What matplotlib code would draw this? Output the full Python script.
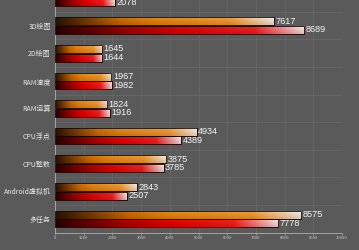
import numpy as np
import matplotlib
matplotlib.use("Agg")
import matplotlib.pyplot as plt
from matplotlib.colors import LinearSegmentedColormap

plt.rcParams['font.family'] = ['Noto Sans CJK SC', 'DejaVu Sans']

categories = ["多任务", "Android虚拟机", "CPU整数", "CPU浮点", "RAM运算", "RAM速度", "2D绘图", "3D绘图", "存储I/O"]
series_a = [8575, 2843, 3875, 4934, 1824, 1967, 1645, 7617, 1950]
series_b = [7778, 2507, 3785, 4389, 1916, 1982, 1644, 8689, 2078]
x_ticks = [0, 1000, 2000, 3000, 4000, 5000, 6000, 7000, 8000, 9000, 10000]

W, H = 359, 250
fig = plt.figure(figsize=(W / 100, H / 100), dpi=100)
fig.patch.set_facecolor('#5a5a5a')
ax = fig.add_axes([55 / W, 17.3 / H, (342 - 55) / W, 248.5 / H])
ax.set_facecolor('#5a5a5a')

y = np.arange(len(categories))
bh = 0.29
off = 0.155

cmap_a = LinearSegmentedColormap.from_list('a', [(0, '#2a1200'), (0.3, '#d86e00'), (0.45, '#f08a10'), (0.8, '#ffa030'), (1.0, '#fff4ea')])
cmap_b = LinearSegmentedColormap.from_list('b', [(0, '#2a0000'), (0.3, '#b00000'), (0.5, '#f00000'), (0.8, '#ff2020'), (1.0, '#fff0f0')])

bars_a = ax.barh(y + off, series_a, height=bh, color='none', edgecolor='#1a0800', linewidth=0.6, zorder=3)
bars_b = ax.barh(y - off, series_b, height=bh, color='none', edgecolor='#1a0000', linewidth=0.6, zorder=3)

grad = np.linspace(0, 1, 256)
vert = np.linspace(0.82, 1.0, 16)[:, None]

for bars, cmap in ((bars_a, cmap_a), (bars_b, cmap_b)):
    for b in bars:
        x0, y0 = b.get_x(), b.get_y()
        w, h = b.get_width(), b.get_height()
        rgb = cmap(grad)[:, :3][None, :, :] * vert[:, :, None]
        im = ax.imshow(rgb, extent=(x0, x0 + w, y0, y0 + h), aspect='auto',
                       origin='lower', zorder=2, interpolation='bilinear')
        im.set_clip_path(b)
        ax.text(x0 + w + 50, y0 + h / 2, f"{int(w)}", va='center', ha='left',
                fontsize=6.6, color='#f4f4f4', family='Liberation Sans', zorder=4)

ax.set_xlim(0, 10000)
ax.set_ylim(-0.5, len(categories) - 0.5)
ax.set_xticks(x_ticks)
ax.set_xticklabels([str(t) for t in x_ticks], fontsize=3, color='#cccccc')
ax.set_yticks(y)
ax.set_yticklabels(categories, fontsize=5, color='#e6e6e6')
# top category label lies above the visible area in the reference
ax.get_yticklabels()[-1].set_visible(False)
ax.set_yticks(np.arange(-0.5, len(categories), 1), minor=True)
ax.tick_params(axis='y', length=0, pad=3)
ax.tick_params(axis='y', which='minor', length=0)
ax.tick_params(axis='x', length=1.5, width=0.5, color='#aaaaaa', pad=1)
ax.grid(axis='x', which='major', color='#666666', linewidth=0.6, zorder=0)
ax.grid(axis='y', which='minor', color='#666666', linewidth=0.6, zorder=0)
ax.set_axisbelow(True)
for s in ('top', 'right'):
    ax.spines[s].set_visible(False)
for s in ('left', 'bottom'):
    ax.spines[s].set_color('#b0b0b0')
    ax.spines[s].set_linewidth(0.6)

fig.savefig('out.png', dpi=100, facecolor=fig.get_facecolor())
